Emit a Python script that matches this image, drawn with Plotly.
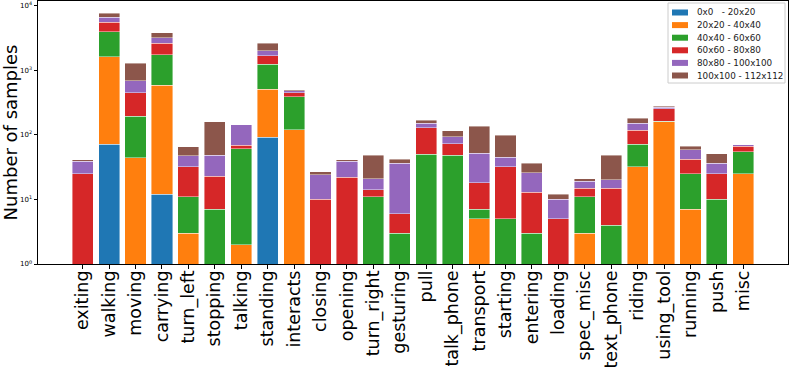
import plotly.graph_objects as go

categories = ["exiting", "walking", "moving", "carrying", "turn_left", "stopping",
              "talking", "standing", "interacts", "closing", "opening", "turn_right",
              "gesturing", "pull", "talk_phone", "transport", "starting", "entering",
              "loading", "spec_misc", "text_phone", "riding", "using_tool", "running",
              "push", "misc"]

size_labels = ["0x0\u00a0\u00a0\u00a0- 20x20", "20x20 - 40x40", "40x40 - 60x60",
               "60x60 - 80x80", "80x80 - 100x100", "100x100 - 112x112"]

s_0_20 = [0, 71, 0, 12, 0, 0, 0, 91, 0, 0, 0, 0, 0,
          0, 0, 0, 0, 0, 0, 0, 0, 0, 0, 0, 0, 0]
s_20_40 = [0, 1550, 44, 572, 3, 0, 2, 415, 119, 0, 0, 0, 0,
           0, 0, 5, 0, 0, 0, 3, 0, 32, 160, 7, 0, 25]
s_40_60 = [0, 2330, 151, 1156, 8, 7, 59, 728, 266, 0, 0, 11, 3,
           50, 48, 2, 5, 3, 0, 8, 4, 39, 1, 18, 10, 30]
s_60_80 = [25, 1560, 249, 870, 21, 16, 8, 444, 63, 10, 22, 3, 3,
           79, 24, 11, 27, 10, 5, 4, 11, 46, 90, 17, 15, 11]
s_80_100 = [14, 1070, 236, 540, 15, 25, 73, 305, 34, 14, 17, 7, 30,
            23, 21, 34, 13, 13, 5, 4, 5, 35, 16, 17, 11, 4]
s_100_112 = [2, 1010, 600, 660, 18, 110, 0, 627, 17, 3, 2, 27, 6,
             16, 23, 83, 53, 10, 2, 2, 28, 28, 9, 8, 15, 0]

series = [s_0_20, s_20_40, s_40_60, s_60_80, s_80_100, s_100_112]
colors = ["#1f77b4", "#ff7f0e", "#2ca02c", "#d62728", "#9467bd", "#8c564b"]

W, H = 789, 367
L, R, T, B = 38, 1, 1, 103

fig = go.Figure()
x = list(range(len(categories)))
for name, vals, col in zip(size_labels, series, colors):
    fig.add_trace(go.Bar(
        x=x, y=vals, name=name, width=0.8, showlegend=False,
        marker=dict(color=col, line=dict(color="rgba(255,255,255,0.7)", width=0.6)),
    ))

# matplotlib-like legend drawn by hand (plotly's rows are too tall)
pw, ph = W - L - R, H - T - B
def px(xp):
    return (xp - L) / pw
def py(yp):
    return 1 - (yp - T) / ph

shapes = [dict(type="rect", xref="paper", yref="paper",
               x0=px(668), x1=px(785), y0=py(83), y1=py(3),
               line=dict(color="#cccccc", width=1), fillcolor="rgba(255,255,255,0.8)")]
annotations = []
for i, (name, col) in enumerate(zip(size_labels, colors)):
    yc = 12.5 + i * 12.6
    shapes.append(dict(type="rect", xref="paper", yref="paper",
                       x0=px(672), x1=px(688), y0=py(yc + 3), y1=py(yc - 3),
                       line=dict(width=0), fillcolor=col))
    annotations.append(dict(xref="paper", yref="paper", x=px(695), y=py(yc),
                            xanchor="left", yanchor="middle", showarrow=False,
                            text=name, font=dict(size=8.8, color="#222222")))

fig.update_layout(
    barmode="stack",
    width=W, height=H,
    margin=dict(l=L, r=R, t=T, b=B),
    plot_bgcolor="white", paper_bgcolor="white",
    font=dict(family="DejaVu Sans", color="black"),
    showlegend=False,
    shapes=shapes,
    annotations=annotations,
)

fig.update_xaxes(
    range=[-1.69, 26.69], automargin=False,
    tickvals=x, ticktext=categories, tickangle=-90,
    tickfont=dict(size=17.5), ticklabelstandoff=-5,
    ticks="outside", ticklen=3.5, tickcolor="black",
    showline=True, mirror=True, linecolor="black", linewidth=1,
    showgrid=False, zeroline=False,
)

fig.update_yaxes(
    type="log", range=[0, 4.07], automargin=False,
    tickvals=[1, 10, 100, 1000, 10000],
    ticktext=["10<sup>0</sup>", "10<sup>1</sup>", "10<sup>2</sup>",
              "10<sup>3</sup>", "10<sup>4</sup>"],
    tickfont=dict(size=7),
    ticks="outside", ticklen=3.5, tickcolor="black",
    showline=True, mirror=True, linecolor="black", linewidth=1,
    showgrid=False, zeroline=False,
    title=dict(text="Number of samples", font=dict(size=18), standoff=2),
)

fig.write_html("out.html", config={"displayModeBar": False},
               post_script="document.body.style.margin='0';")
